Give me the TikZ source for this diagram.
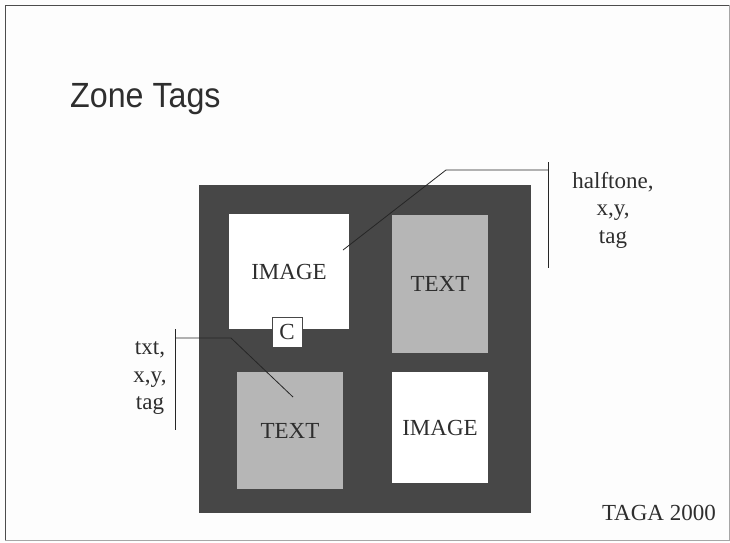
\documentclass[tikz,border=0pt]{standalone}
\usepackage{fontspec}
\setmainfont{Liberation Serif}
\newfontfamily\titlefont{Liberation Sans}
\definecolor{ink}{HTML}{2E2E2E}
\definecolor{page}{HTML}{FDFDFD}
\definecolor{zonedark}{HTML}{474747}
\definecolor{zonelight}{HTML}{B6B6B6}
\definecolor{leader}{HTML}{262626}
\tikzset{
  zone/.style={draw=none, inner sep=0pt, text=ink,
    font=\fontsize{23}{26}\selectfont},
  imagezone/.style={zone, fill=white},
  textzone/.style={zone, fill=zonelight},
  tagbox/.style={zone, fill=white, draw=zonedark, line width=0.6pt},
  taglabel/.style={align=center, text=ink, inner sep=0pt,
    font=\fontsize{23}{27.5}\selectfont},
  leaderline/.style={draw=leader, line width=0.8pt},
}
\begin{document}
\begin{tikzpicture}[x=1pt, y=-1pt]
  \useasboundingbox[fill=page] (0,0) rectangle (730,542);
  % slide frame
  \draw[color=black!35, line width=0.8pt] (5,5) rectangle (729,540);
  \draw[color=black!70, line width=1pt] (5,540) -- (5,5) -- (729,5);

  % title, set slightly condensed
  \node[anchor=base west, inner sep=0pt, text=ink,
        font=\titlefont\fontsize{35}{40}\selectfont] (title) at (70,107)
        {\scalebox{0.92}[1]{Zone Tags}};

  % page with its zones
  \node[fill=zonedark, inner sep=0pt, minimum width=332pt, minimum height=328pt]
        (sheet) at (365,349) {};
  \node[imagezone, minimum width=120pt, minimum height=115pt] (img1) at (289,271.5) {IMAGE};
  \node[textzone, minimum width=96pt, minimum height=138pt] (txt1) at (440,284) {TEXT};
  \node[textzone, minimum width=106pt, minimum height=117pt] (txt2) at (290,430.5) {TEXT};
  \node[imagezone, minimum width=96pt, minimum height=111pt] (img2) at (440,427.5) {IMAGE};
  \node[tagbox, minimum width=30pt, minimum height=30pt] (cbox) at (287,332) {C};

  % tag for the halftone zone
  \coordinate (hpoint) at (343,250);
  \coordinate (hknee) at (446,170);
  \coordinate (hbar) at (548,170);
  \coordinate (htop) at (548,162);
  \coordinate (hbot) at (548,268);
  \draw[leaderline] (hpoint) -- (hknee) -- (hbar);
  \draw[leaderline] (htop) -- (hbot);
  \node[taglabel] (hlabel) at (613,210) {halftone,\\x,y,\\tag};

  % tag for the text zone
  \coordinate (tpoint) at (293,397);
  \coordinate (tknee) at (231,338);
  \coordinate (tbar) at (175,338);
  \coordinate (ttop) at (175,329);
  \coordinate (tbot) at (175,430);
  \draw[leaderline] (tpoint) -- (tknee) -- (tbar);
  \draw[leaderline] (ttop) -- (tbot);
  \node[taglabel] (tlabel) at (150,378) {txt,\\x,y,\\tag};

  % footer
  \node[anchor=east, inner sep=0pt, text=ink,
        font=\fontsize{23}{26}\selectfont] (footer) at (716,513) {TAGA 2000};
\end{tikzpicture}
\end{document}
